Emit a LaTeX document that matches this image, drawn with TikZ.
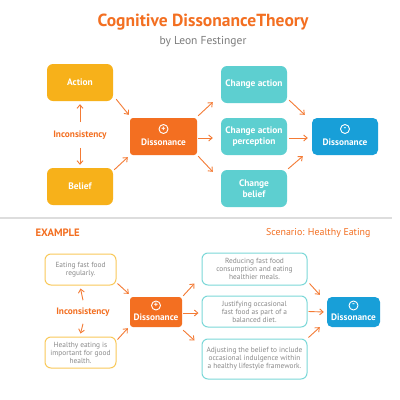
\documentclass[tikz,border=0pt]{standalone}
\usepackage{fontspec}
\setmainfont{PT Sans}
\usetikzlibrary{arrows.meta}
\definecolor{cOrange}{HTML}{F36F21}
\definecolor{cArrow}{HTML}{F47B35}
\definecolor{cYellow}{HTML}{F7B11A}
\definecolor{cYBorder}{HTML}{F9C95A}
\definecolor{cTeal}{HTML}{5DCFD0}
\definecolor{cTBorder}{HTML}{7BD8D8}
\definecolor{cBlue}{HTML}{189FD8}
\definecolor{cGrey}{HTML}{8A8A8A}
\definecolor{cLine}{HTML}{DDDDDD}
\tikzset{
  solidbox/.style={rounded corners=6pt, minimum width=66pt, minimum height=37pt, align=center, text=white, font=\bfseries\fontsize{9.4}{10.5}\selectfont, inner sep=1pt},
  yelbox/.style={solidbox, fill=cYellow},
  tealbox/.style={solidbox, fill=cTeal},
  orbox/.style={solidbox, fill=cOrange, rounded corners=3pt},
  bluebox/.style={solidbox, fill=cBlue, rounded corners=5pt},
  exbox/.style={rounded corners=6pt, draw=cYBorder, line width=1pt, fill=white, align=center, text=cGrey, font=\fontsize{7.4}{8}\selectfont, inner sep=1pt},
  scbox/.style={exbox, draw=cTBorder},
  arr/.style={draw=cArrow, line width=0.9pt, -{Straight Barb[length=3.5pt,width=6pt]}},
  iconc/.style={circle, draw=white, line width=0.9pt, minimum size=9pt, inner sep=0pt, text=white, font=\bfseries\fontsize{8}{8}\selectfont},
  disstext/.style={text=white, font=\bfseries\fontsize{9.3}{10}\selectfont},
  inctext/.style={text=cOrange, font=\bfseries\fontsize{9.3}{10}\selectfont}
}
\begin{document}
\begin{tikzpicture}[x=1pt,y=-1pt]
\useasboundingbox[fill=white] (0,0) rectangle (400,400);
% title
\node[text=cOrange, font=\bfseries\fontsize{17.5}{19}\selectfont] (title) at (203,22) {Cognitive DissonanceTheory};
\node[text=cGrey!90!black, font=\fontsize{11.5}{13}\selectfont] (sub) at (203,42) {by Leon Festinger};

% top diagram
\node[yelbox] (act) at (80,82.5) {Action};
\node[yelbox] (bel) at (80,186.5) {Belief};
\node[inctext] (inc) at (80,135) {Inconsistency};
\node[orbox, minimum width=67pt] (dis) at (163.5,136.5) {};
\node[iconc] (dplus) at (163.5,129) {+};
\node[disstext] (dtxt) at (163.5,142.5) {Dissonance};
\node[tealbox] (ca) at (254,84.5) {Change action};
\node[tealbox] (cap) at (254,136.5) {Change action\\perception};
\node[tealbox] (cb) at (254,188.5) {Change\\belief};
\node[bluebox] (bd) at (345,136.5) {};
\node[iconc] (bminus) at (345,129) {-};
\node[disstext] (btxt) at (345,142.5) {Dissonance};

\draw[arr] ([shift={(0,-5)}]inc.north) -- ([shift={(0,3)}]act.south);
\draw[arr] ([shift={(0,5)}]inc.south) -- ([shift={(0,-3)}]bel.north);
\draw[arr] ([shift={(3,-2)}]act.south east) -- ([shift={(-1,-3)}]dis.north west);
\draw[arr] ([shift={(1,2)}]bel.north east) -- ([shift={(-2,2)}]dis.south west);
\draw[arr] ([shift={(1,-2)}]dis.north east) -- ([shift={(-8,-1)}]ca.south west);
\draw[arr] ([shift={(1,1.5)}]dis.east) -- ([shift={(-8,1.5)}]cap.west);
\draw[arr] ([shift={(1,1)}]dis.south east) -- ([shift={(-8,2)}]cb.north west);
\draw[arr] ([shift={(2,-3)}]ca.south east) -- ([shift={(-7,-3)}]bd.north west);
\draw[arr] ([shift={(2,1.5)}]cap.east) -- ([shift={(-4,1.5)}]bd.west);
\draw[arr] ([shift={(1,-1)}]cb.north east) -- ([shift={(-9,1)}]bd.south west);

% separator
\draw[cLine, line width=1.5pt] (0,218) -- (392,218) coordinate (sepend);

% example
\node[text=cOrange, font=\bfseries\fontsize{10.7}{12}\selectfont, anchor=west] (ex) at (32,233) {EXAMPLE};
\node[text=cOrange, font=\fontsize{9.9}{11}\selectfont, anchor=east] (scen) at (374,233) {Scenario: Healthy Eating};

\node[exbox, minimum width=71pt, minimum height=31pt] (e1) at (80.5,269.5) {Eating fast food\\regularly.};
\node[exbox, minimum width=71pt, minimum height=31pt] (e2) at (80.5,352.5) {Healthy eating is\\important for good\\health.};
\node[inctext] (inc2) at (83,312) {Inconsistency};
\node[orbox, minimum width=52pt, minimum height=30pt] (dis2) at (156,312) {};
\node[iconc] (d2plus) at (156,305.5) {+};
\node[disstext] (d2txt) at (156,317.5) {Dissonance};
\node[scbox, minimum width=105pt, minimum height=32pt] (ra) at (254.5,269) {Reducing fast food\\consumption and eating\\healthier meals.};
\node[scbox, minimum width=105pt, minimum height=31pt] (rb) at (254.5,311.5) {Justifying occasional\\fast food as part of a\\balanced diet.};
\node[scbox, minimum width=105pt, minimum height=40pt] (rc) at (254.5,359) {Adjusting the belief to include\\occasional indulgence within\\a healthy lifestyle framework.};
\node[bluebox, minimum width=53pt, minimum height=30pt] (bd2) at (353.5,312) {};
\node[iconc] (b2minus) at (353.5,305.5) {-};
\node[disstext] (b2txt) at (353.5,317.5) {Dissonance};

\draw[arr] ([shift={(0,-4)}]inc2.north) -- ([shift={(0,3)}]e1.south);
\draw[arr] ([shift={(0,4)}]inc2.south) -- ([shift={(0,-3)}]e2.north);
\draw[arr] ([shift={(1,-2)}]e1.south east) -- ([shift={(-1,-3)}]dis2.north west);
\draw[arr] ([shift={(1,3)}]e2.north east) -- ([shift={(-2,1)}]dis2.south west);
\draw[arr] ([shift={(1,-1)}]dis2.north east) -- ([shift={(-7,-2)}]ra.south west);
\draw[arr] ([shift={(1,1)}]dis2.east) -- ([shift={(-3,1.5)}]rb.west);
\draw[arr] ([shift={(1,3)}]dis2.south east) -- ([shift={(-7,2)}]rc.north west);
\draw[arr] ([shift={(2,-2)}]ra.south east) -- ([shift={(-7,-2)}]bd2.north west);
\draw[arr] ([shift={(1,0)}]rb.east) -- ([shift={(-3,0)}]bd2.west);
\draw[arr] ([shift={(1,-1)}]rc.north east) -- ([shift={(-7,0)}]bd2.south west);
\end{tikzpicture}
\end{document}
